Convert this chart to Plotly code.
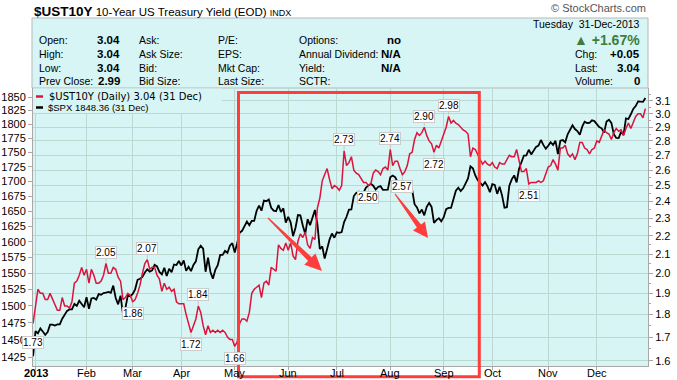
import math
import pandas as pd
import plotly.graph_objects as go

# ---------------- data ----------------
holidays_2013 = ["2013-01-21", "2013-02-18", "2013-03-29", "2013-05-27",
                 "2013-07-04", "2013-09-02", "2013-11-28", "2013-12-25"]
first_day = "2012-12-31"

spx_close = [
    1426.19,
    1462.42, 1459.37, 1466.47, 1461.89, 1457.15, 1461.02, 1472.12, 1472.05, 1470.68, 1472.34, 1472.63,
    1480.94, 1485.98, 1492.56, 1494.81, 1494.82, 1502.96, 1500.18, 1507.84, 1501.96, 1498.11,
    1513.17, 1495.71, 1511.29, 1512.12, 1509.39, 1517.93, 1517.01, 1519.43, 1520.33, 1521.38,
    1519.79, 1530.94, 1511.95, 1502.42, 1515.60, 1487.85, 1496.94, 1515.99, 1514.68,
    1518.20, 1525.20, 1539.79, 1541.46, 1544.26, 1551.18, 1556.22, 1552.48, 1554.52, 1563.23,
    1560.70, 1552.10, 1548.34, 1558.71, 1545.80, 1556.89, 1551.69, 1563.77, 1562.85, 1569.19,
    1562.17, 1570.25, 1553.69, 1559.98, 1553.28, 1563.07, 1568.61, 1587.73, 1593.37, 1588.85, 1552.36,
    1574.57, 1552.01, 1541.61, 1555.25, 1562.50, 1578.78, 1578.79, 1585.16, 1582.24, 1593.61, 1597.57,
    1582.70, 1597.59, 1614.42, 1617.50, 1625.96, 1632.69, 1626.67, 1633.70, 1633.77, 1650.34, 1658.78,
    1650.47, 1667.47, 1666.29, 1669.16, 1655.35, 1650.51, 1649.60, 1660.06, 1648.36, 1654.41, 1630.74,
    1640.42, 1631.38, 1608.90, 1622.56, 1643.38, 1642.81, 1626.13, 1612.52, 1636.36, 1626.73,
    1639.04, 1651.81, 1628.93, 1588.19, 1592.43, 1573.09, 1588.03, 1603.26, 1613.20, 1606.28,
    1614.96, 1614.08, 1615.41, 1631.89, 1640.46, 1652.32, 1652.62, 1675.02, 1680.19, 1682.50, 1676.26,
    1680.91, 1689.37, 1692.09, 1695.53, 1692.39, 1685.94, 1690.25, 1691.65, 1685.33, 1685.96, 1685.73,
    1706.87, 1709.67, 1707.14, 1697.37, 1690.91, 1697.48, 1691.42, 1689.47, 1694.16, 1685.39, 1661.32,
    1655.83, 1646.06, 1652.35, 1642.80, 1656.96, 1663.50, 1656.78, 1630.48, 1634.96, 1638.17, 1632.97,
    1639.77, 1653.08, 1655.08, 1655.17, 1671.71, 1683.99, 1689.13, 1683.42, 1687.99, 1697.60,
    1704.76, 1725.52, 1722.34, 1709.91, 1701.84, 1697.42, 1692.77, 1698.67, 1691.75, 1681.55,
    1695.00, 1693.87, 1678.66, 1690.50, 1676.12, 1655.45, 1656.40, 1692.56, 1703.20, 1710.14, 1698.06, 1721.54,
    1733.15, 1744.50, 1744.66, 1754.67, 1746.38, 1752.07, 1759.77, 1762.11, 1771.95, 1763.31, 1756.54,
    1761.64, 1767.93, 1762.97, 1770.49, 1747.15, 1770.61, 1771.89, 1767.69, 1782.00, 1790.62,
    1798.18, 1791.53, 1787.87, 1781.37, 1795.85, 1804.76, 1802.48, 1802.75, 1807.23, 1805.81,
    1800.90, 1795.15, 1792.81, 1785.03, 1805.09, 1808.37, 1802.62, 1782.22, 1775.50, 1775.32, 1786.54,
    1781.00, 1810.65, 1809.60, 1818.32, 1827.99, 1833.32, 1842.02, 1841.40, 1841.07, 1848.36,
]

ust10y_yield = [
    1.76,
    1.84, 1.92, 1.90, 1.90, 1.87, 1.87, 1.90, 1.87, 1.84, 1.82, 1.82,
    1.88, 1.84, 1.84, 1.83, 1.86, 1.95, 1.96, 1.99, 2.03, 1.99,
    2.02, 1.95, 2.02, 1.99, 1.95, 1.95, 1.96, 1.99, 2.05, 2.00,
    2.00, 2.03, 2.02, 1.98, 1.96, 1.87, 1.88, 1.90, 1.89,
    1.86, 1.87, 1.90, 1.94, 2.00, 2.05, 2.07, 2.02, 2.03, 2.03,
    1.99, 1.97, 1.91, 1.95, 1.92, 1.93, 1.91, 1.92, 1.86, 1.85,
    1.85, 1.85, 1.80, 1.76, 1.72, 1.75, 1.78, 1.84, 1.81, 1.75, 1.71,
    1.75, 1.72, 1.73, 1.72, 1.73, 1.72, 1.73, 1.72, 1.70, 1.69, 1.69,
    1.66, 1.68, 1.76, 1.78, 1.78, 1.77, 1.81, 1.90, 1.92, 1.93, 1.94,
    1.88, 1.95, 1.96, 1.94, 2.03, 2.02, 2.01, 2.15, 2.13, 2.12, 2.16,
    2.12, 2.16, 2.09, 2.07, 2.17, 2.21, 2.19, 2.22, 2.15, 2.13,
    2.19, 2.18, 2.36, 2.42, 2.53, 2.57, 2.61, 2.54, 2.48, 2.50,
    2.49, 2.47, 2.50, 2.73, 2.63, 2.65, 2.69, 2.60, 2.58, 2.57, 2.54,
    2.52, 2.52, 2.50, 2.51, 2.58, 2.60, 2.59, 2.57, 2.61, 2.62, 2.60,
    2.74, 2.63, 2.66, 2.66, 2.61, 2.57, 2.59, 2.63, 2.71, 2.72, 2.81,
    2.86, 2.84, 2.86, 2.90, 2.84, 2.80, 2.78, 2.72, 2.77, 2.75, 2.80,
    2.86, 2.90, 2.98, 2.93, 2.95, 2.93, 2.92, 2.90, 2.88, 2.87,
    2.85, 2.69, 2.75, 2.74, 2.71, 2.67, 2.64, 2.66, 2.64, 2.63,
    2.65, 2.62, 2.61, 2.65, 2.64, 2.64, 2.67, 2.70, 2.69, 2.69, 2.74, 2.67,
    2.59, 2.59, 2.61, 2.51, 2.52, 2.52, 2.52, 2.53, 2.52, 2.53, 2.57,
    2.62, 2.63, 2.67, 2.64, 2.60, 2.75, 2.75, 2.77, 2.71, 2.69,
    2.71, 2.67, 2.71, 2.79, 2.79, 2.75, 2.74, 2.71, 2.74, 2.75,
    2.80, 2.79, 2.84, 2.88, 2.86, 2.85, 2.81, 2.86, 2.89, 2.87, 2.88,
    2.84, 2.89, 2.93, 2.89, 2.93, 2.98, 3.00, 3.00, 2.97, 3.04,
]

# high / low value flags drawn on the yield line
flag_dates = ["2012-12-31", "2013-02-13", "2013-03-01", "2013-03-11", "2013-04-05",
              "2013-04-10", "2013-05-01", "2013-07-05", "2013-07-19", "2013-08-01",
              "2013-08-08", "2013-08-21", "2013-08-27", "2013-09-05", "2013-10-22"]
flag_values = [1.73, 2.05, 1.86, 2.07, 1.72, 1.84, 1.66, 2.73, 2.50, 2.74,
               2.57, 2.90, 2.72, 2.98, 2.51]
flag_kind = ["low", "high", "low", "high", "low", "high", "low", "high", "low", "high",
             "low", "high", "low", "high", "low"]

month_labels = ["<b>2013</b>", "Feb", "Mar", "Apr", "May", "Jun", "Jul", "Aug",
                "Sep", "Oct", "Nov", "Dec"]
spx_ticks = list(range(1425, 1851, 25))
ust_ticks = [1.6, 1.7, 1.8, 1.9, 2.0, 2.1, 2.2, 2.3, 2.4, 2.5, 2.6, 2.7, 2.8, 2.9, 3.0, 3.1]
ust_minor = [1.65, 1.75, 1.85, 1.95, 2.05, 2.15, 2.25, 2.35, 2.45, 2.55, 2.65, 2.75,
             2.85, 2.95, 3.05, 3.15]

# ---------------- trading calendar (x = trading-day number) ----------------
bdays = pd.bdate_range("2013-01-02", "2013-12-31")
dates = [pd.Timestamp(first_day)] + [d for d in bdays if d.strftime("%Y-%m-%d") not in holidays_2013]
assert len(dates) == len(spx_close) == len(ust10y_yield), (len(dates), len(spx_close), len(ust10y_yield))
xnum = list(range(-1, len(dates) - 1))
date_to_x = {d.strftime("%Y-%m-%d"): x for d, x in zip(dates, xnum)}
month_x = []
for m in range(1, 13):
    month_x.append(min(x for d, x in zip(dates, xnum) if d.year == 2013 and d.month == m))

# ---------------- geometry helpers ----------------
W, H = 677, 380
ML, MR, MT, MB = 33, 29, 88, 14
PW = W - ML - MR
PH = H - MT - MB


def px(x):
    return (x - ML) / PW


def py(y):
    return (H - MB - y) / PH


BG = "#d6f5f4"
GRID = "#bcd8d1"
AXC = "#a8a8a8"
RED_LINE = "#dc143c"
MARK = "#ff3d3d"
FONT = "Liberation Sans"

fig = go.Figure()
fig.add_trace(go.Scatter(x=xnum, y=spx_close, mode="lines", yaxis="y",
                         line=dict(color="black", width=1.8), hoverinfo="skip"))
fig.add_trace(go.Scatter(x=xnum, y=ust10y_yield, mode="lines", yaxis="y2",
                         line=dict(color=RED_LINE, width=1.5), hoverinfo="skip"))

ann = []
shapes = []


def txt(x, y, s, size=11, color="black", anchor="left", family=FONT):
    ann.append(dict(x=px(x), y=py(y), xref="paper", yref="paper", text=s, showarrow=False,
                    xanchor=anchor, yanchor="middle", font=dict(size=size, color=color, family=family)))


# header
txt(32, 12, "<span style='font-size:13.5px'><b>$UST10Y</b></span> 10-Year US Treasury Yield (EOD) "
            "<span style='font-size:9px'>INDX</span>", size=11.5)
txt(648, 8, "© StockCharts.com", size=11, color="#555555", anchor="right")

# info panel
shapes.append(dict(type="rect", xref="paper", yref="paper", x0=px(32), x1=px(648), y0=py(88), y1=py(18),
                   fillcolor=BG, line=dict(color="#b8b8b8", width=1), layer="below"))
rows = [40.5, 54, 67.5, 81]
col1 = ["Open:", "High:", "Low:", "Prev Close:"]
val1 = ["3.04", "3.04", "3.04", "2.99"]
col2 = ["Ask:", "Ask Size:", "Bid:", "Bid Size:"]
col3 = ["P/E:", "EPS:", "Mkt Cap:", "Last Size:"]
col4 = ["Options:", "Annual Dividend:", "Yield:", "SCTR:"]
val4 = ["no", "N/A", "N/A", ""]
for i, yy in enumerate(rows):
    txt(37, yy, col1[i], size=10.5)
    txt(122, yy, "<b>%s</b>" % val1[i], size=11.5, anchor="right")
    txt(137, yy, col2[i], size=10.5)
    txt(216, yy, col3[i], size=10.5)
    txt(297, yy, col4[i], size=10.5)
    if val4[i]:
        txt(403, yy, "<b>%s</b>" % val4[i], size=11.5, anchor="right")
txt(642, 24, "Tuesday  31-Dec-2013", size=10.5, anchor="right")
txt(642, 40, "<b>▲ +1.67%</b>", size=14, color="#3d7d3d", anchor="right")
for lab, v, yy in [("Chg:", "+0.05", 54), ("Last:", "3.04", 67.5), ("Volume:", "0", 81)]:
    txt(573, yy, lab, size=10.5)
    txt(642, yy, "<b>%s</b>" % v, size=11.5, anchor="right")

# legend block
shapes.append(dict(type="rect", xref="paper", yref="paper", x0=px(33.5), x1=px(222), y0=py(113), y1=py(88.5),
                   fillcolor=BG, line=dict(width=0), layer="above"))
shapes.append(dict(type="line", xref="paper", yref="paper", x0=px(36), x1=px(43), y0=py(96.5), y1=py(96.5),
                   line=dict(color=RED_LINE, width=2.5), layer="above"))
shapes.append(dict(type="line", xref="paper", yref="paper", x0=px(36), x1=px(43), y0=py(107.5), y1=py(107.5),
                   line=dict(color="black", width=2.5), layer="above"))
txt(47, 96.5, "$UST10Y (Daily) 3.04 (31 Dec)", size=10, family="DejaVu Sans")
txt(46, 107.5, "$SPX 1848.36 (31 Dec)", size=9.5)

# month labels under the axis
for mx, lab in zip(month_x, month_labels):
    ann.append(dict(x=mx, y=py(373), xref="x", yref="paper", text=lab, showarrow=False,
                    xanchor="center", yanchor="middle", font=dict(size=11, family=FONT, color="black")))

# value flags
for d, v, k in zip(flag_dates, flag_values, flag_kind):
    ann.append(dict(x=date_to_x[d], y=math.log10(v), xref="x", yref="y2", text=str("%.2f" % v),
                    showarrow=True, arrowhead=0, arrowwidth=1, arrowcolor="#c8c8c8",
                    ax=0, ay=(-11 if k == "high" else 12), standoff=1,
                    bgcolor="white", bordercolor="#cccccc", borderwidth=1, borderpad=0,
                    font=dict(size=10, color="black", family=FONT)))

# red highlight box
shapes.append(dict(type="rect", xref="paper", yref="paper", x0=px(238.5), x1=px(479.3),
                   y0=py(376.8), y1=py(92.5), line=dict(color=MARK, width=3), layer="above"))


def arrow(x0, y0, x1, y1, w0=0.6, w1=2.6, hl=17, hw=8):
    dx, dy = x1 - x0, y1 - y0
    L = math.hypot(dx, dy)
    ux, uy = dx / L, dy / L
    nx, ny = -uy, ux
    bx, by = x1 - hl * ux, y1 - hl * uy
    pts = [(x0 + w0 * nx, y0 + w0 * ny), (bx + w1 * nx, by + w1 * ny), (bx + hw * nx, by + hw * ny),
           (x1, y1), (bx - hw * nx, by - hw * ny), (bx - w1 * nx, by - w1 * ny), (x0 - w0 * nx, y0 - w0 * ny)]
    path = "M " + " L ".join("%.5f,%.5f" % (px(a), py(b)) for a, b in pts) + " Z"
    shapes.append(dict(type="path", xref="paper", yref="paper", path=path,
                       fillcolor=MARK, line=dict(width=0), layer="above"))


arrow(268, 218, 322, 271)
arrow(395, 194, 428, 238, hl=15, hw=7.5)

fig.update_layout(
    width=W, height=H,
    margin=dict(l=ML, r=MR, t=MT, b=MB, pad=0, autoexpand=False),
    paper_bgcolor="white", plot_bgcolor=BG,
    showlegend=False, hovermode=False,
    font=dict(family=FONT, size=11, color="black"),
    xaxis=dict(range=[-1.03, 252.07], tickmode="array", tickvals=month_x, showticklabels=False,
               showgrid=True, gridcolor=GRID, gridwidth=1, zeroline=False, automargin=False,
               ticks="outside", ticklen=3, tickcolor=AXC, showline=True, linecolor=AXC,
               fixedrange=True),
    yaxis=dict(type="log", range=[math.log10(1412.2), math.log10(1866.9)], tickmode="array",
               tickvals=spx_ticks, ticktext=[str(t) for t in spx_ticks], automargin=False,
               showgrid=False, zeroline=False, ticks="outside", ticklen=4, tickcolor=AXC,
               showline=True, linecolor=AXC, tickfont=dict(size=11, family=FONT), fixedrange=True),
    yaxis2=dict(type="log", overlaying="y", side="right", automargin=False,
                range=[math.log10(1.5794), math.log10(3.204)], tickmode="array",
                tickvals=ust_ticks, ticktext=["%.1f" % t for t in ust_ticks],
                showgrid=True, gridcolor=GRID, gridwidth=1, zeroline=False,
                ticks="outside", ticklen=4, tickcolor=AXC, showline=True, linecolor=AXC,
                minor=dict(tickmode="array", tickvals=ust_minor, ticks="outside", ticklen=2,
                           tickcolor=AXC, showgrid=False),
                tickfont=dict(size=11, family=FONT), fixedrange=True),
    annotations=ann, shapes=shapes,
)

fig.write_html("out.html", config={"displayModeBar": False},
               post_script="document.body.style.margin='0';document.body.style.padding='0';")
